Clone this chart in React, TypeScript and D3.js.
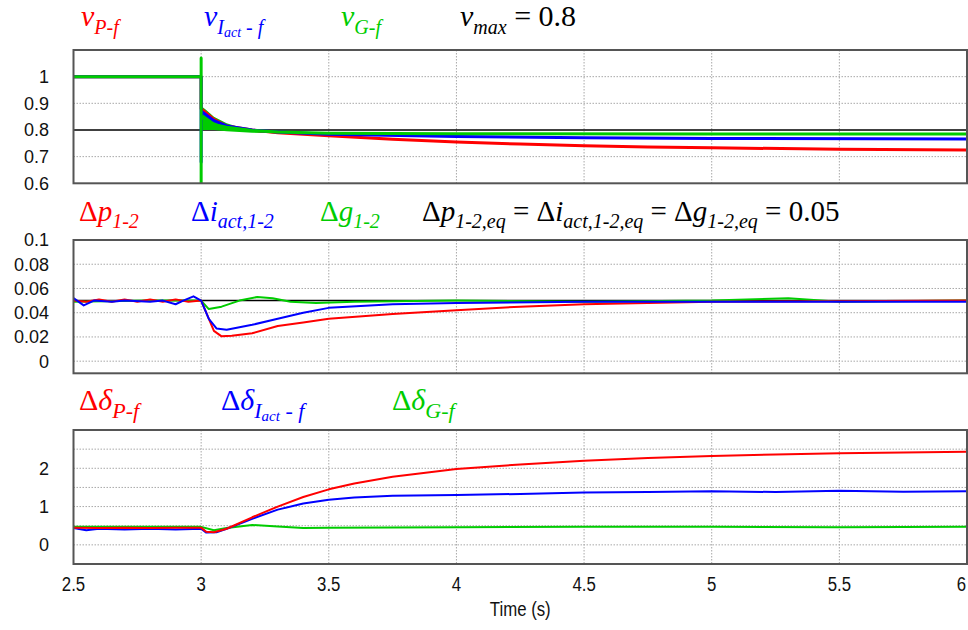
import React from "react";
import * as d3 from "d3";

// ---------- data ----------
const X_TICKS = [2.5, 3, 3.5, 4, 4.5, 5, 5.5, 6];

// Top panel: voltages
const V_P: [number, number][] = [[2.5,1.0],[3.0,1.0],[3.0,0.88],[3.05,0.84],[3.1,0.815],[3.2,0.8],[3.3,0.79],[3.5,0.778],[3.75,0.765],[4.0,0.755],[4.25,0.747],[4.5,0.741],[4.75,0.736],[5.0,0.733],[5.5,0.728],[6.0,0.725]];
const V_I: [number, number][] = [[2.5,1.0],[3.0,1.0],[3.0,0.68],[3.0,0.87],[3.05,0.835],[3.1,0.815],[3.2,0.8],[3.3,0.792],[3.5,0.784],[4.0,0.776],[4.5,0.771],[5.0,0.768],[6.0,0.766]];
const V_G: [number, number][] = [[2.5,1.0],[3.0,1.0],[3.0,1.07],[3.0,0.6],[3.0,0.85],[3.05,0.82],[3.1,0.81],[3.2,0.798],[3.3,0.792],[3.5,0.788],[4.0,0.786],[5.0,0.785],[6.0,0.785]];
const V_G_BAND_T = [3.0, 3.02, 3.05, 3.1, 3.15, 3.2, 3.3];
const V_G_BAND_HI = [0.89, 0.875, 0.85, 0.825, 0.81, 0.8, 0.792];
const V_G_BAND_LO = [0.8, 0.8, 0.8, 0.795, 0.792, 0.79, 0.788];

// Middle panel: power sharing errors
const DP: [number, number][] = [[2.5,0.05],[2.55,0.049],[2.6,0.051],[2.65,0.049],[2.7,0.051],[2.75,0.049],[2.8,0.051],[2.85,0.049],[2.9,0.051],[2.95,0.049],[3.0,0.05],[3.02,0.04],[3.05,0.025],[3.08,0.0205],[3.12,0.021],[3.2,0.023],[3.3,0.029],[3.4,0.032],[3.5,0.035],[3.75,0.039],[4.0,0.042],[4.25,0.045],[4.5,0.047],[4.75,0.048],[5.0,0.049],[5.5,0.0495],[6.0,0.05]];
const DI: [number, number][] = [[2.5,0.052],[2.54,0.046],[2.58,0.05],[2.65,0.049],[2.7,0.05],[2.8,0.049],[2.85,0.05],[2.9,0.047],[2.93,0.05],[2.97,0.0535],[3.0,0.05],[3.03,0.035],[3.06,0.027],[3.1,0.026],[3.2,0.03],[3.3,0.035],[3.4,0.04],[3.5,0.044],[3.75,0.047],[4.0,0.048],[4.5,0.049],[5.0,0.049],[5.5,0.049],[6.0,0.049]];
const DG: [number, number][] = [[2.5,0.049],[2.8,0.05],[3.0,0.05],[3.03,0.043],[3.08,0.045],[3.15,0.05],[3.22,0.053],[3.28,0.052],[3.35,0.049],[3.45,0.048],[3.6,0.049],[4.0,0.05],[4.5,0.049],[5.0,0.05],[5.3,0.052],[5.5,0.049],[6.0,0.05]];

// Bottom panel: angle differences
const DD_P: [number, number][] = [[2.5,0.45],[2.6,0.44],[2.7,0.45],[2.8,0.44],[2.9,0.45],[3.0,0.45],[3.02,0.34],[3.05,0.33],[3.1,0.42],[3.2,0.72],[3.3,1.0],[3.4,1.25],[3.5,1.45],[3.6,1.6],[3.75,1.78],[4.0,1.98],[4.25,2.1],[4.5,2.2],[4.75,2.27],[5.0,2.32],[5.25,2.36],[5.5,2.39],[5.75,2.41],[6.0,2.43]];
const DD_I: [number, number][] = [[2.5,0.44],[2.55,0.38],[2.6,0.42],[2.7,0.4],[2.8,0.42],[2.9,0.4],[3.0,0.42],[3.02,0.32],[3.06,0.33],[3.1,0.42],[3.2,0.68],[3.3,0.92],[3.4,1.08],[3.5,1.18],[3.6,1.24],[3.75,1.28],[4.0,1.3],[4.25,1.33],[4.5,1.37],[4.75,1.38],[5.0,1.4],[5.25,1.38],[5.5,1.41],[5.75,1.39],[6.0,1.4]];
const DD_G: [number, number][] = [[2.5,0.47],[3.0,0.47],[3.05,0.38],[3.1,0.44],[3.2,0.52],[3.3,0.48],[3.4,0.44],[3.5,0.45],[4.0,0.46],[4.5,0.47],[5.0,0.47],[5.5,0.46],[6.0,0.47]];

const TOP_TICKS = [0.6, 0.7, 0.8, 0.9, 1];
const MID_TICKS = [0, 0.02, 0.04, 0.06, 0.08, 0.1];
const BOT_TICKS = [0, 1, 2];

type Seg = { t: string; lv: number; it?: boolean };
const LEG_TOP: { c: string; segs: Seg[] }[] = [
  { c: "#ff0000", segs: [{ t: "v", lv: 0, it: true }, { t: "P-f", lv: 1, it: true }] },
  { c: "#0000ff", segs: [{ t: "v", lv: 0, it: true }, { t: "I", lv: 1, it: true }, { t: "act", lv: 2, it: true }, { t: " - f", lv: 1, it: true }] },
  { c: "#00cc00", segs: [{ t: "v", lv: 0, it: true }, { t: "G-f", lv: 1, it: true }] },
  { c: "#000000", segs: [{ t: "v", lv: 0, it: true }, { t: "max", lv: 1, it: true }, { t: " = 0.8", lv: 0 }] },
];
const LEG_MID: { c: string; segs: Seg[] }[] = [
  { c: "#ff0000", segs: [{ t: "Δ", lv: 0 }, { t: "p", lv: 0, it: true }, { t: "1-2", lv: 1, it: true }] },
  { c: "#0000ff", segs: [{ t: "Δ", lv: 0 }, { t: "i", lv: 0, it: true }, { t: "act,1-2", lv: 1, it: true }] },
  { c: "#00cc00", segs: [{ t: "Δ", lv: 0 }, { t: "g", lv: 0, it: true }, { t: "1-2", lv: 1, it: true }] },
  { c: "#000000", segs: [{ t: "Δ", lv: 0 }, { t: "p", lv: 0, it: true }, { t: "1-2,eq", lv: 1, it: true }, { t: " = Δ", lv: 0 }, { t: "i", lv: 0, it: true }, { t: "act,1-2,eq", lv: 1, it: true }, { t: " = Δ", lv: 0 }, { t: "g", lv: 0, it: true }, { t: "1-2,eq", lv: 1, it: true }, { t: " = 0.05", lv: 0 }] },
];
const LEG_BOT: { c: string; segs: Seg[] }[] = [
  { c: "#ff0000", segs: [{ t: "Δ", lv: 0 }, { t: "δ", lv: 0, it: true }, { t: "P-f", lv: 1, it: true }] },
  { c: "#0000ff", segs: [{ t: "Δ", lv: 0 }, { t: "δ", lv: 0, it: true }, { t: "I", lv: 1, it: true }, { t: "act", lv: 2, it: true }, { t: " - f", lv: 1, it: true }] },
  { c: "#00cc00", segs: [{ t: "Δ", lv: 0 }, { t: "δ", lv: 0, it: true }, { t: "G-f", lv: 1, it: true }] },
];

// ---------- layout ----------
const W = 968, H = 630;
const X0 = 73.5, X1 = 967;
const RED = "#ff0000", BLUE = "#0000ff", GREEN = "#00cc00";
const SERIF = "'Times New Roman', 'Liberation Serif', Times, serif";
const SANS = "Arial, 'Liberation Sans', Helvetica, sans-serif";

const x = d3.scaleLinear().domain([2.5, 6]).range([X0, X1]);

function Legend({ items, xs, y, sizes }: { items: { c: string; segs: Seg[] }[]; xs: number[]; y: number; sizes: number[] }) {
  const offs = [0, sizes[0] * 0.25, sizes[0] * 0.38];
  return (
    <g>
      {items.map((it, i) => {
        let cur = 0;
        return (
          <text key={i} x={xs[i]} y={y} fill={it.c} style={{ whiteSpace: "pre", fontFamily: SERIF }}>
            {it.segs.map((s, j) => {
              const dy = offs[s.lv] - cur;
              cur = offs[s.lv];
              return (
                <tspan key={j} dy={dy} style={{ fontFamily: SERIF, fontSize: sizes[s.lv], fontStyle: s.it ? "italic" : "normal" }}>
                  {s.t}
                </tspan>
              );
            })}
          </text>
        );
      })}
    </g>
  );
}

function Panel({ y0, y1, domain, grid, ticks, refV, series, sw, children }: any) {
  const y = d3.scaleLinear().domain(domain).range([y1, y0]);
  const line = d3.line<[number, number]>().x((d) => x(d[0])).y((d) => y(d[1]));
  const id = "clip" + Math.round(y0);
  return (
    <g>
      <defs>
        <clipPath id={id}>
          <rect x={X0} y={y0} width={X1 - X0} height={y1 - y0} />
        </clipPath>
      </defs>
      {X_TICKS.slice(1, -1).map((t) => (
        <line key={"vx" + t} x1={x(t)} x2={x(t)} y1={y0} y2={y1} stroke="#a8a8a8" strokeWidth={1} strokeDasharray="1.5,1.5" />
      ))}
      {grid.map((g: number) => (
        <line key={"hg" + g} x1={X0} x2={X1} y1={y(g)} y2={y(g)} stroke="#a8a8a8" strokeWidth={1} strokeDasharray="1.5,1.5" />
      ))}
      {refV !== undefined && <line x1={X0} x2={X1} y1={y(refV)} y2={y(refV)} stroke="#000" strokeWidth={1.5} />}
      <g clipPath={`url(#${id})`}>
        {children && children(y)}
        {series.map((s: any, i: number) => (
          <path key={i} d={line(s.d) || ""} fill="none" stroke={s.c} strokeWidth={sw} strokeLinejoin="round" />
        ))}
      </g>
      <rect x={X0} y={y0} width={X1 - X0} height={y1 - y0} fill="none" stroke="#555" strokeWidth={2} />
      {ticks.map((t: number) => (
        <text key={"tl" + t} x={49} y={y(t)} dy="0.36em" textAnchor="end" style={{ fontFamily: SANS, fontSize: 18 }} fill="#111">
          {String(t)}
        </text>
      ))}
    </g>
  );
}

export default function App() {
  const band = (y: any) => {
    const area = d3
      .area<number>()
      .x((_, i) => x(V_G_BAND_T[i]))
      .y0((_, i) => y(V_G_BAND_LO[i]))
      .y1((_, i) => y(V_G_BAND_HI[i]));
    return <path d={area(V_G_BAND_T) || ""} fill={GREEN} />;
  };
  return (
    <div style={{ position: "absolute", left: 0, top: 0 }}>
      <svg width={W} height={H} style={{ display: "block", background: "#fff" }}>
        <Legend items={LEG_TOP} xs={[81, 204, 341, 460]} y={26} sizes={[30, 20, 14]} />
        <Legend items={LEG_MID} xs={[79, 191, 320, 422]} y={221} sizes={[29, 20, 14]} />
        <Legend items={LEG_BOT} xs={[79, 221, 392]} y={410} sizes={[30, 22, 15]} />

        <Panel
          y0={50}
          y1={183.3}
          domain={[0.6, 1.1]}
          grid={[0.7, 0.9, 1.0]}
          ticks={TOP_TICKS}
          refV={0.8}
          sw={3}
          series={[{ d: V_P, c: RED }, { d: V_I, c: BLUE }, { d: V_G, c: GREEN }]}
        >
          {band}
        </Panel>
        <Panel
          y0={240}
          y1={373.3}
          domain={[-0.01, 0.1]}
          grid={[0, 0.02, 0.04, 0.06, 0.08]}
          ticks={MID_TICKS}
          refV={0.05}
          sw={2}
          series={[{ d: DG, c: GREEN }, { d: DP, c: RED }, { d: DI, c: BLUE }]}
        />
        <Panel
          y0={430}
          y1={564}
          domain={[-0.5, 3]}
          grid={[0, 0.5, 1, 1.5, 2, 2.5]}
          ticks={BOT_TICKS}
          sw={2}
          series={[{ d: DD_G, c: GREEN }, { d: DD_I, c: BLUE }, { d: DD_P, c: RED }]}
        />

        {X_TICKS.map((t, i) => (
          <text
            key={"xt" + t}
            transform={`translate(${i === X_TICKS.length - 1 ? X1 - 1 : x(t)},591) scale(0.8,1)`}
            textAnchor={i === X_TICKS.length - 1 ? "end" : "middle"}
            style={{ fontFamily: SANS, fontSize: 21 }}
            fill="#111"
          >
            {String(t)}
          </text>
        ))}
        <text transform={`translate(${(X0 + X1) / 2},616) scale(0.8,1)`} textAnchor="middle" style={{ fontFamily: SANS, fontSize: 21 }} fill="#111">
          Time (s)
        </text>
      </svg>
    </div>
  );
}
